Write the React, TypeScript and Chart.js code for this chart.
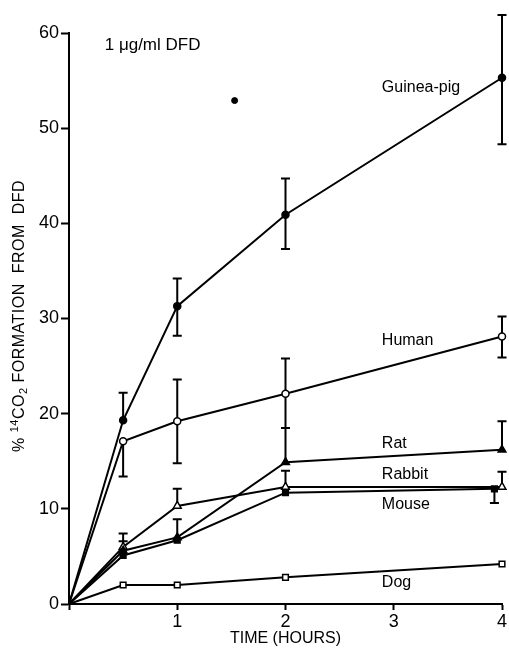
import React, { useEffect, useRef } from 'react';
import { Chart, registerables } from 'chart.js';

Chart.register(...registerables);

// ---- data (hours, % 14CO2 formation) ----
const times = [0, 0.5, 1, 2, 4];
const mouseTimes = [0, 0.5, 1, 2, 3.93];

const guineaPig = [0, 19.3, 31.3, 40.9, 55.3];
const guineaPigHigh = [null, 22.2, 34.2, 44.7, 61.9];
const guineaPigLow = [null, null, 28.2, 37.3, 48.3];

const human = [0, 17.1, 19.2, 22.1, 28.1];
const humanHigh = [null, null, 23.6, 25.8, 30.2];
const humanLow = [null, 13.4, 14.8, 18.5, 25.9];

const rat = [0, 5.6, 7.0, 14.9, 16.2];
const ratHigh = [null, 6.6, 8.9, 18.5, 19.2];

const rabbit = [0, 6.0, 10.3, 12.3, 12.3];
const rabbitHigh = [null, 7.4, 12.1, 14.0, 13.9];

const mouse = [0, 5.1, 6.7, 11.7, 12.1];
const mouseLow = [null, null, null, null, 10.6];

const dog = [0, 2.0, 2.0, 2.8, 4.2];

const strayX = [1.53];
const strayY = [52.9];

const xTicks = [0, 1, 2, 3, 4];
const yTicks = [0, 10, 20, 30, 40, 50, 60];

const seriesNames = ['Guinea-pig', 'Human', 'Rat', 'Rabbit', 'Mouse', 'Dog'];
const nameX = [2.89, 2.89, 2.89, 2.89, 2.89, 2.89];
const nameY = [54.3, 27.7, 16.9, 13.55, 10.4, 2.2];

const noteText = '1 \u03bcg/ml DFD';
const noteX = 0.33;
const noteY = 58.7;

const xTitle = 'TIME (HOURS)';

const FONT = '"Liberation Sans", Arial, Helvetica, sans-serif';

const pairs = (xs: number[], ys: number[]) => ys.map((y, i) => ({ x: xs[i], y }));

const errorBarPlugin = {
  id: 'errorBars',
  beforeDatasetsDraw(chart: any) {
    const ctx = chart.ctx;
    const ys = chart.scales.y;
    ctx.save();
    ctx.strokeStyle = '#000';
    ctx.lineWidth = 2;
    chart.data.datasets.forEach((ds: any, di: number) => {
      const hi = ds.errHigh;
      const lo = ds.errLow;
      if (!hi && !lo) return;
      const meta = chart.getDatasetMeta(di);
      meta.data.forEach((pt: any, i: number) => {
        const v = ds.data[i].y;
        const h = hi ? hi[i] : null;
        const l = lo ? lo[i] : null;
        if (h == null && l == null) return;
        const top = ys.getPixelForValue(h != null ? h : v);
        const bot = ys.getPixelForValue(l != null ? l : v);
        ctx.beginPath();
        ctx.moveTo(pt.x, top);
        ctx.lineTo(pt.x, bot);
        if (h != null) {
          ctx.moveTo(pt.x - 4.5, top);
          ctx.lineTo(pt.x + 4.5, top);
        }
        if (l != null) {
          ctx.moveTo(pt.x - 4.5, bot);
          ctx.lineTo(pt.x + 4.5, bot);
        }
        ctx.stroke();
      });
    });
    ctx.restore();
  },
};

const textPlugin = {
  id: 'texts',
  afterDraw(chart: any) {
    const ctx = chart.ctx;
    const xs = chart.scales.x;
    const ys = chart.scales.y;
    ctx.save();
    ctx.fillStyle = '#000';
    ctx.textBaseline = 'middle';
    ctx.textAlign = 'left';
    ctx.font = `16px ${FONT}`;
    seriesNames.forEach((n, i) => {
      ctx.fillText(n, xs.getPixelForValue(nameX[i]), ys.getPixelForValue(nameY[i]));
    });
    ctx.font = `17px ${FONT}`;
    ctx.fillText(noteText, xs.getPixelForValue(noteX), ys.getPixelForValue(noteY));

    // rotated y title with superscript / subscript
    const cx = 20;
    const cy = 316;
    const normal = `16px ${FONT}`;
    const small = `11px ${FONT}`;
    const parts: [string, string, number][] = [
      ['% ', normal, 0],
      ['14', small, -5],
      ['CO', normal, 0],
      ['2', small, 4],
      [' FORMATION  FROM  DFD', normal, 0],
    ];
    ctx.translate(cx, cy);
    ctx.rotate(-Math.PI / 2);
    try {
      (ctx as any).letterSpacing = '0.5px';
    } catch (e) {
      /* ignore */
    }
    let total = 0;
    const widths = parts.map(([t, f]) => {
      ctx.font = f;
      const w = ctx.measureText(t).width;
      total += w;
      return w;
    });
    let x = -total / 2;
    parts.forEach(([t, f, dy], i) => {
      ctx.font = f;
      ctx.fillText(t, x, dy);
      x += widths[i];
    });
    ctx.restore();
  },
};

const openStyle = { backgroundColor: '#fff', borderColor: '#000' };
const filledStyle = { backgroundColor: '#000', borderColor: '#000' };

export default function App() {
  const ref = useRef<HTMLCanvasElement | null>(null);

  useEffect(() => {
    if (!ref.current) return;
    const base = {
      showLine: true,
      borderWidth: 2,
      pointBorderWidth: 1.5,
      pointRadius: 4,
      borderColor: '#000',
      clip: false,
    };
    const chart = new Chart(ref.current, {
      type: 'scatter',
      data: {
        datasets: [
          {
            ...base,
            label: seriesNames[0],
            data: pairs(times, guineaPig),
            pointStyle: 'circle',
            pointRadius: [0, 3.5, 3.5, 3.5, 3.5],
            pointBackgroundColor: filledStyle.backgroundColor,
            pointBorderColor: filledStyle.borderColor,
            errHigh: guineaPigHigh,
            errLow: guineaPigLow,
          },
          {
            ...base,
            label: seriesNames[1],
            data: pairs(times, human),
            pointStyle: 'circle',
            pointRadius: [0, 3.5, 3.5, 3.5, 3.5],
            pointBackgroundColor: openStyle.backgroundColor,
            pointBorderColor: openStyle.borderColor,
            errHigh: humanHigh,
            errLow: humanLow,
          },
          {
            ...base,
            label: seriesNames[2],
            data: pairs(times, rat),
            pointStyle: 'triangle',
            pointRadius: [0, 4.5, 4.5, 4.5, 4.5],
            pointBackgroundColor: filledStyle.backgroundColor,
            pointBorderColor: filledStyle.borderColor,
            errHigh: ratHigh,
          },
          {
            ...base,
            label: seriesNames[3],
            data: pairs(times, rabbit),
            pointStyle: 'triangle',
            pointRadius: [0, 4.5, 4.5, 4.5, 4.5],
            pointBackgroundColor: openStyle.backgroundColor,
            pointBorderColor: openStyle.borderColor,
            errHigh: rabbitHigh,
          },
          {
            ...base,
            label: seriesNames[4],
            data: pairs(mouseTimes, mouse),
            pointStyle: 'rect',
            pointRadius: [0, 4, 4, 4, 4],
            pointBackgroundColor: filledStyle.backgroundColor,
            pointBorderColor: filledStyle.borderColor,
            errLow: mouseLow,
          },
          {
            ...base,
            label: seriesNames[5],
            data: pairs(times, dog),
            pointStyle: 'rect',
            pointRadius: [0, 4, 4, 4, 4],
            pointBackgroundColor: openStyle.backgroundColor,
            pointBorderColor: openStyle.borderColor,
          },
          {
            label: 'mark',
            data: pairs(strayX, strayY),
            showLine: false,
            pointStyle: 'circle',
            pointRadius: 3,
            pointBackgroundColor: '#000',
            pointBorderColor: '#000',
          },
        ] as any,
      },
      options: {
        animation: false,
        responsive: false,
        maintainAspectRatio: false,
        layout: { padding: { left: 0, top: 33, right: 7, bottom: 0 } },
        plugins: {
          legend: { display: false },
          tooltip: { enabled: false },
          title: { display: false },
        },
        scales: {
          x: {
            type: 'linear',
            min: 0,
            max: 4,
            afterFit: (s: any) => {
              s.height = 44;
            },
            afterBuildTicks: (s: any) => {
              s.ticks = xTicks.map((v) => ({ value: v }));
            },
            ticks: {
              color: '#000',
              font: { size: 18, family: FONT },
              padding: 1,
              maxRotation: 0,
              callback: (v: any) => (v === 0 ? '' : String(v)),
            },
            grid: {
              display: true,
              drawOnChartArea: false,
              drawTicks: true,
              tickLength: 6,
              tickWidth: 2,
              color: '#000',
            },
            border: { display: true, color: '#000', width: 2 },
            title: {
              display: true,
              text: xTitle,
              color: '#000',
              font: { size: 16, family: FONT },
              padding: { top: 0, bottom: 0 },
            },
          },
          y: {
            type: 'linear',
            min: 0,
            max: 60,
            afterFit: (s: any) => {
              s.width = 69;
            },
            afterBuildTicks: (s: any) => {
              s.ticks = yTicks.map((v) => ({ value: v }));
            },
            ticks: {
              color: '#000',
              font: { size: 18, family: FONT },
              padding: 2,
            },
            grid: {
              display: true,
              drawOnChartArea: false,
              drawTicks: true,
              tickLength: 8,
              tickWidth: 2,
              color: '#000',
            },
            border: { display: true, color: '#000', width: 2 },
          },
        },
      } as any,
      plugins: [errorBarPlugin, textPlugin],
    });
    return () => chart.destroy();
  }, []);

  return (
    <div style={{ position: 'absolute', left: 0, top: 0, width: 509, height: 648, background: '#fff' }}>
      <canvas ref={ref} width={509} height={648} style={{ width: 509, height: 648, display: 'block' }} />
    </div>
  );
}
